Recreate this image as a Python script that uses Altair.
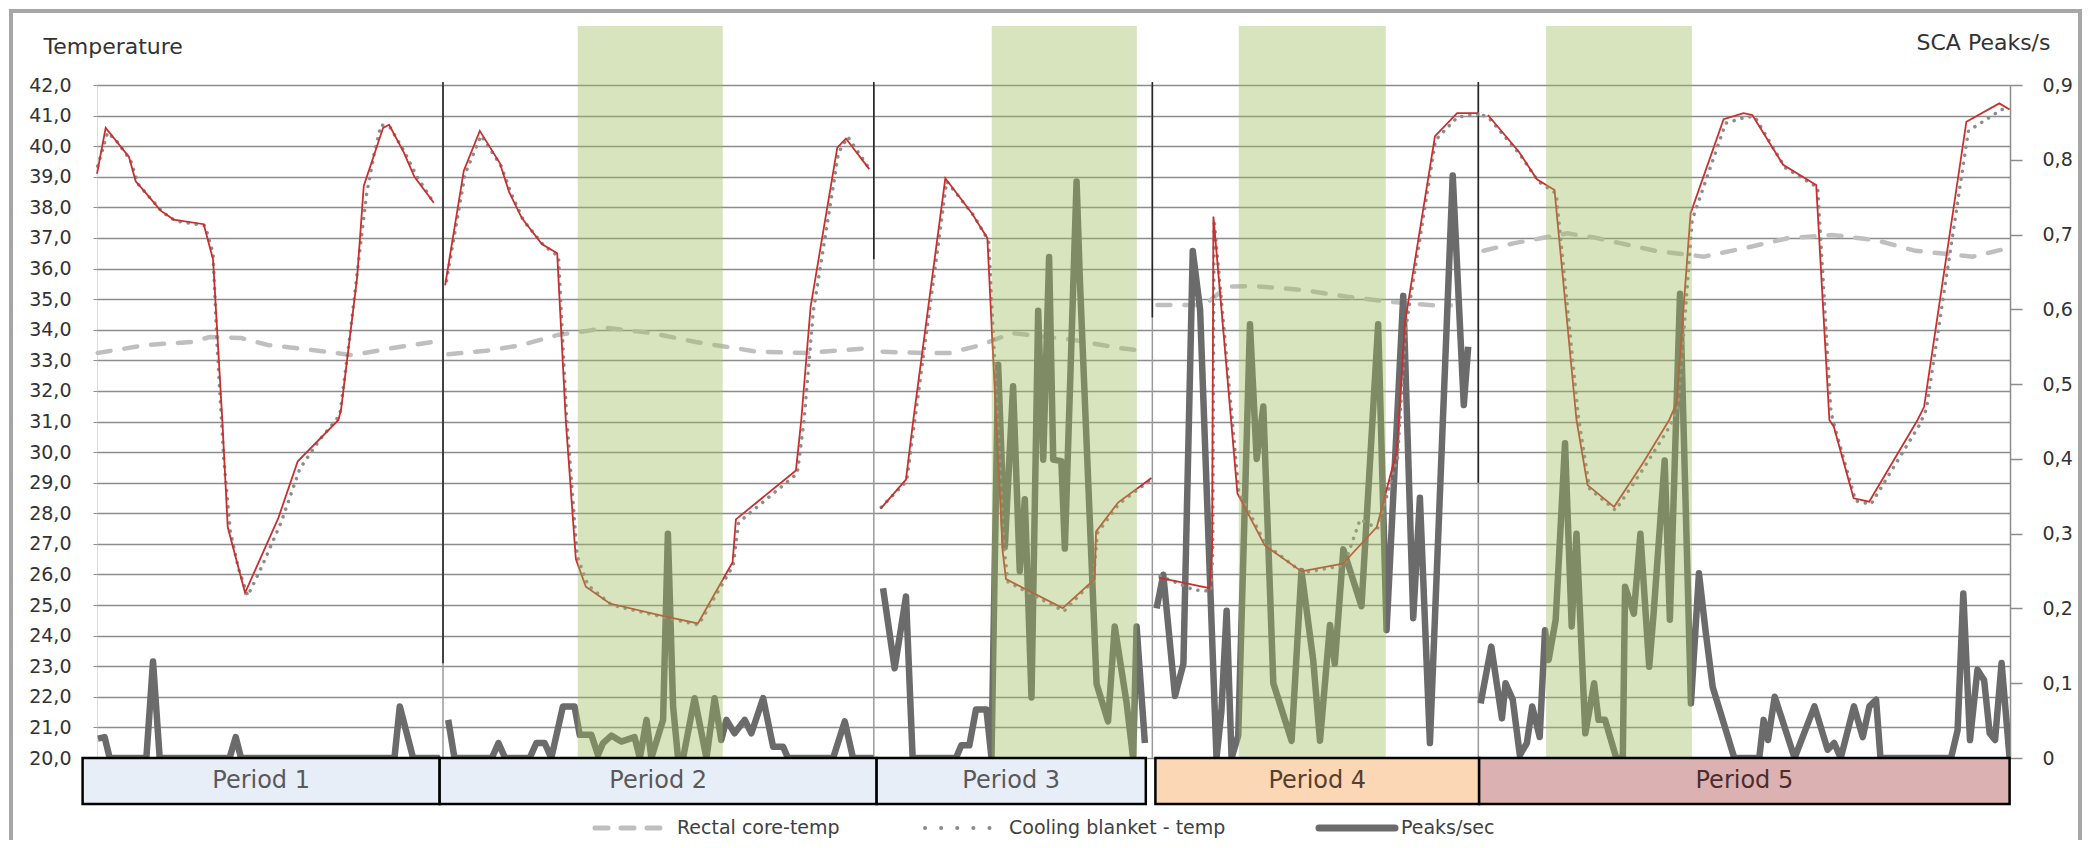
import altair as alt
import pandas as pd

# ---------------- data (x = time position 0..1434, left axis temperature, right axis peaks/s) ----------------
# red blanket-temperature trace, one list per period
red_p1_t = [0, 6.5, 24, 29, 37, 47.5, 57.5, 80, 87, 94, 98, 111, 136, 150.5, 181, 183, 195, 200, 214.5, 219, 230, 238, 252.5]
red_p1_v = [39.1, 40.6, 39.65, 38.85, 38.45, 37.9, 37.6, 37.45, 36.3, 31.0, 27.55, 25.4, 27.85, 29.7, 31.05, 31.4, 35.7, 38.7, 40.6, 40.7, 39.8, 39.0, 38.15]
red_p2_t = [261, 275, 287, 302, 309, 318.5, 333.5, 345, 351.5, 359, 366.5, 384.5, 424, 450.5, 476.5, 479, 524, 528, 535, 555, 561.5, 579]
red_p2_v = [35.45, 39.2, 40.5, 39.45, 38.5, 37.65, 36.8, 36.5, 31.0, 26.5, 25.6, 25.05, 24.65, 24.4, 26.4, 27.8, 29.4, 31.05, 34.75, 39.95, 40.25, 39.25]
red_p3_t = [587.5, 606.5, 612, 636, 656, 667.5, 679, 681.5, 724, 748, 749, 765.5, 790.5]
red_p3_v = [28.15, 29.1, 31.05, 38.95, 37.8, 37.0, 26.75, 25.85, 24.9, 25.85, 27.4, 28.35, 29.15]
red_p4_t = [796, 834, 836, 837, 855, 875.5, 903, 934, 959.5, 974.5, 980.5, 1003.1, 1019.7, 1035.6]
red_p4_v = [25.9, 25.55, 26.8, 37.7, 28.65, 26.95, 26.1, 26.35, 27.55, 30.05, 34.2, 40.33, 41.08, 41.08]
red_p5_t = [1042.8, 1066, 1079.5, 1092.7, 1109.2, 1117.5, 1137.4, 1158.8, 1178.7, 1184.2, 1194.7, 1219.5, 1234.4, 1241,
            1264.1, 1288.9, 1298.8, 1302.1, 1317, 1328.6, 1364.9, 1369.8, 1401.5, 1426.2, 1433.9]
red_p5_v = [41.02, 39.82, 38.92, 38.57, 31.05, 28.92, 28.21, 29.63, 31.05, 31.6, 37.8, 40.88, 41.08, 41.02,
            39.39, 38.73, 31.05, 30.83, 28.49, 28.38, 31.05, 31.48, 40.8, 41.4, 41.2]

# cooling blanket temperature (dotted)
dot_p1_t = [0.5, 8, 15, 25, 31, 39, 49, 59, 81, 87, 90, 95, 100, 106, 113, 124, 138, 152, 166, 182, 189, 196, 202, 208, 213, 220, 230, 240, 251]
dot_p1_v = [39.35, 40.45, 40.15, 39.55, 38.75, 38.35, 37.85, 37.55, 37.4, 36.5, 33.5, 29.8, 27.4, 26.2, 25.3, 26.3, 27.7, 29.45, 30.35, 31.2, 33.6, 36.2, 38.4, 39.8, 40.7, 40.6, 39.85, 39.0, 38.25]
dot_p2_t = [262, 276, 288, 303, 311, 320, 335, 346, 352, 360, 368, 386, 425, 451, 477, 481, 525, 530, 537, 556, 563, 580]
dot_p2_v = [35.6, 39.1, 40.35, 39.35, 38.4, 37.55, 36.75, 36.4, 31.2, 26.6, 25.65, 25.0, 24.6, 24.35, 26.3, 27.7, 29.3, 31.0, 34.6, 39.8, 40.3, 39.2]
dot_p3_t = [588, 607, 613, 637, 657, 668.5, 680, 683, 725, 747, 750, 766, 790]
dot_p3_v = [28.2, 29.05, 31.0, 38.85, 37.75, 36.9, 26.9, 25.75, 24.8, 25.8, 27.35, 28.3, 29.1]
dot_p4_t = [797, 822, 835, 836.5, 837.5, 856, 876, 904, 935, 947, 960, 975, 981, 1003.5, 1020, 1035.6]
dot_p4_v = [25.95, 25.5, 25.45, 26.7, 37.6, 28.7, 27.0, 26.05, 26.3, 27.8, 27.5, 29.8, 34.0, 40.2, 40.95, 41.05]
dot_p5_t = [1039.5, 1044, 1066.5, 1080.5, 1094, 1110.5, 1119, 1138.5, 1160, 1180, 1185.5, 1196, 1221, 1236, 1243,
            1265.5, 1290, 1300, 1303.5, 1318.5, 1330, 1366.5, 1371.5, 1403, 1428, 1434]
dot_p5_v = [41.0, 40.9, 39.75, 38.85, 38.45, 31.2, 28.8, 28.1, 29.5, 30.9, 31.5, 37.6, 40.75, 40.95, 40.95,
            39.3, 38.65, 31.3, 30.7, 28.4, 28.3, 30.9, 31.4, 40.5, 41.2, 41.15]

# rectal core temperature (dashed)
rect_p1_t = [0.5, 37, 71, 84.5, 108, 128, 161.3, 191.4, 221.6, 251.6]
rect_p1_v = [33.24, 33.5, 33.6, 33.76, 33.73, 33.5, 33.34, 33.17, 33.4, 33.6]
rect_p2_t = [263.4, 291.8, 318.5, 345.4, 368.7, 382, 415.8, 448.9, 495.3, 532, 562, 579]
rect_p2_v = [33.2, 33.31, 33.5, 33.83, 33.97, 34.06, 33.89, 33.6, 33.28, 33.24, 33.34, 33.4]
rect_p3_t = [589, 619, 639.4, 662.6, 686, 733, 766.5, 785]
rect_p3_v = [33.28, 33.24, 33.24, 33.5, 33.89, 33.66, 33.4, 33.31]
rect_p4_t = [795, 830, 847.5, 867, 903.8, 937.3, 967.4, 1001.6, 1015]
rect_p4_v = [34.81, 34.81, 35.41, 35.43, 35.3, 35.08, 34.92, 34.8, 34.8]
rect_p5_t = [1039.5, 1062.6, 1082.5, 1102.3, 1122.1, 1141.9, 1168.3, 1204.7, 1234.4, 1267.5, 1300.5, 1333.5, 1363.3, 1406.2, 1429.3]
rect_p5_v = [36.58, 36.83, 36.99, 37.15, 37.02, 36.83, 36.58, 36.39, 36.66, 36.99, 37.1, 36.93, 36.58, 36.39, 36.63]

# SCA peaks per second (right axis)
pk_p1_t = [0.7, 5.7, 9.5, 37, 42, 47, 99.4, 104, 108, 223, 227, 237, 257]
pk_p1_v = [0.026, 0.028, 0, 0, 0.129, 0, 0, 0.028, 0, 0, 0.069, 0, 0]
pk_p2_t = [263.3, 268, 296, 301, 306, 324.4, 329.4, 335.6, 340.6, 349.3, 358, 361.9, 370.6, 375.6, 379.4, 385.6, 393, 403,
           407, 412, 415.6, 424.4, 428, 431.9, 435.6, 439.4, 448, 456.9, 463, 468, 471.9, 478, 485.6, 490.6, 499.4, 506.9,
           514.4, 518, 551.9, 560.6, 566.8, 582]
pk_p2_v = [0.051, 0, 0, 0.02, 0, 0, 0.02, 0.02, 0, 0.069, 0.069, 0.031, 0.031, 0.004, 0.02, 0.03, 0.022, 0.028,
           0, 0.051, 0, 0.051, 0.30, 0.069, 0, 0, 0.08, 0, 0.08, 0.024, 0.051, 0.033, 0.051, 0.033, 0.08, 0.015,
           0.015, 0, 0, 0.049, 0, 0]
pk_p3_t = [589.3, 598, 606.5, 611.5, 644, 648, 654, 659, 666.8, 670.6, 675.6, 680.6, 686.8, 691.8, 695.6, 700.6, 705.6,
           709.4, 713.8, 716.9, 723, 725.6, 734.4, 736.9, 749.4, 758, 763, 771.8, 776.8, 779.4, 785.6]
pk_p3_v = [0.227, 0.12, 0.216, 0, 0, 0.017, 0.017, 0.065, 0.065, 0, 0.526, 0.282, 0.497, 0.25, 0.346, 0.081, 0.598,
           0.399, 0.67, 0.399, 0.397, 0.28, 0.771, 0.638, 0.099, 0.049, 0.176, 0.075, 0, 0.176, 0.02]
pk_p4_t = [794.4, 799.4, 808.2, 814.5, 821.5, 827, 839.3, 843, 846.9, 850.6, 855.6, 864.4, 869.4, 874.4, 881.9, 895.6,
           903, 911.8, 916.9, 924.4, 928, 934.4, 948, 960.5, 966.8, 979.3, 986.8, 991.8, 999.3, 1016.4, 1024.7, 1028]
pk_p4_v = [0.2, 0.245, 0.083, 0.126, 0.678, 0.60, 0, 0.063, 0.197, 0, 0.03, 0.58, 0.40, 0.47, 0.10, 0.023,
           0.25, 0.131, 0.023, 0.178, 0.126, 0.279, 0.203, 0.58, 0.171, 0.618, 0.187, 0.348, 0.02, 0.779, 0.472, 0.55]
pk_p5_t = [1037.3, 1045.3, 1053.3, 1056, 1061.4, 1066.7, 1072, 1076, 1081.6, 1085.6, 1088.3, 1093.6, 1100.6, 1105.6,
           1109.2, 1115.8, 1122.4, 1125.7, 1130.6, 1139, 1143.9, 1145.6, 1152.2, 1157.1, 1163.7, 1167, 1175.3, 1179.2,
           1186.8, 1195, 1201, 1205.9, 1211.3, 1227.5, 1246.2, 1249.5, 1252.8, 1257.8, 1272.7, 1287.6, 1297.5, 1302.4,
           1307.3, 1317.2, 1323.8, 1328.8, 1333.8, 1337.1, 1390, 1394.9, 1399.2, 1404.2, 1409.8, 1414.8, 1419, 1423,
           1427.9, 1433.9]
pk_p5_v = [0.073, 0.149, 0.053, 0.1, 0.078, 0.004, 0.02, 0.069, 0.028, 0.171, 0.131, 0.185, 0.421, 0.176,
           0.30, 0.033, 0.1, 0.051, 0.051, 0, 0, 0.229, 0.193, 0.30, 0.122, 0.193, 0.398, 0.185,
           0.621, 0.073, 0.247, 0.171, 0.095, 0, 0, 0.051, 0.024, 0.082, 0, 0.069, 0.011, 0.02,
           0, 0.069, 0.028, 0.069, 0.078, 0, 0, 0.037, 0.22, 0.024, 0.118, 0.104, 0.033, 0.024,
           0.127, 0]

# green shaded intervals
band_start = [360.4, 670.8, 856.0, 1086.4]
band_end = [469.1, 779.6, 966.2, 1195.7]

# periods
period_label = ["Period 1", "Period 2", "Period 3", "Period 4", "Period 5"]
period_start = [-10.8, 256.9, 584.5, 793.5, 1036.2]
period_end = [256.9, 584.5, 786.3, 1036.2, 1433.9]
period_fill = ["#e8eef8", "#e8eef8", "#e8eef8", "#fcd7b6", "#dcb1b1"]
period_text = ["#595959", "#595959", "#595959", "#55402f", "#4d2c2c"]

# period separators (time, lowest temperature of the dark part)
sep_t = [259.4, 582.4, 791.2, 1035.6]
sep_dark_low = [23.1, 36.3, 34.4, 29.0]

temp_ticks = list(range(20, 43))
peak_ticks = [0, 0.1, 0.2, 0.3, 0.4, 0.5, 0.6, 0.7, 0.8, 0.9]


def frame(segs):
    rows = []
    for i, (ts, vs) in enumerate(segs):
        rows += [{"t": a, "v": b, "seg": i} for a, b in zip(ts, vs)]
    return pd.DataFrame(rows)


red_df = frame([(red_p1_t, red_p1_v), (red_p2_t, red_p2_v), (red_p3_t, red_p3_v), (red_p4_t, red_p4_v), (red_p5_t, red_p5_v)])
dot_df = frame([(dot_p1_t, dot_p1_v), (dot_p2_t, dot_p2_v), (dot_p3_t, dot_p3_v), (dot_p4_t, dot_p4_v), (dot_p5_t, dot_p5_v)])
rect_df = frame([(rect_p1_t, rect_p1_v), (rect_p2_t, rect_p2_v), (rect_p3_t, rect_p3_v), (rect_p4_t, rect_p4_v), (rect_p5_t, rect_p5_v)])
pk_df = frame([(pk_p1_t, pk_p1_v), (pk_p2_t, pk_p2_v), (pk_p3_t, pk_p3_v), (pk_p4_t, pk_p4_v), (pk_p5_t, pk_p5_v)])
band_df = pd.DataFrame({"start": band_start, "end": band_end})
period_df = pd.DataFrame({"start": period_start, "end": period_end, "label": period_label,
                          "fill": period_fill, "tcolor": period_text})
sep_df = pd.DataFrame({"t": sep_t, "lo": sep_dark_low})
one = pd.DataFrame({"k": [0]})

# ---------------- chart ----------------
W, H = 1913, 673
FONT = "DejaVu Sans"
xs = alt.Scale(domain=[0, 1434.2], nice=False, zero=False)


def ys():
    return alt.Scale(domain=[20, 42], nice=False, zero=False)


rs = alt.Scale(domain=[0, 0.9], nice=False, zero=False)


def X(f="t"):
    return alt.X(f + ":Q", scale=xs, axis=None)


left_axis = alt.Axis(
    orient="left", values=temp_ticks,
    labelExpr="replace(format(datum.value, '.1f'), '.', ',')",
    grid=True, gridColor="#8c8c8c", gridWidth=1.4,
    domain=False, ticks=True, tickSize=4, tickColor="#8c8c8c",
    labelFont=FONT, labelFontSize=19, labelColor="#333333", labelPadding=22,
    title="Temperature", titleAngle=0, titleAlign="left", titleBaseline="middle",
    titleX=-54, titleY=-39, titleFont=FONT, titleFontSize=22, titleFontWeight="normal",
    titleColor="#333333",
)
right_axis = alt.Axis(
    orient="right", values=peak_ticks,
    labelExpr="datum.value == 0 ? '0' : replace(format(datum.value, '.1f'), '.', ',')",
    grid=False, domain=True, domainColor="#8c8c8c", domainWidth=1.5,
    ticks=True, tickSize=12, tickColor="#8c8c8c", tickWidth=1.5,
    labelFont=FONT, labelFontSize=19, labelColor="#333333", labelPadding=20,
    title="SCA Peaks/s", titleAngle=0, titleAlign="right", titleBaseline="middle",
    titleX=40, titleY=-43, titleFont=FONT, titleFontSize=22, titleFontWeight="normal",
    titleColor="#333333",
)

sep_light = alt.Chart(sep_df).mark_rule(color="#9a9a9a", strokeWidth=1.5).encode(
    x=X(), y=alt.value(0), y2=alt.value(H))
sep_dark = alt.Chart(sep_df).mark_rule(color="#262626", strokeWidth=1.6).encode(
    x=X(), y=alt.Y("lo:Q", scale=ys(), axis=None), y2=alt.value(-3))

peaks = alt.Chart(pk_df).mark_line(color="#6b6b6b", strokeWidth=6.5, strokeJoin="round", clip=True).encode(
    x=X(), y=alt.Y("v:Q", scale=rs, axis=right_axis), detail="seg:N")

rectal = alt.Chart(rect_df).mark_line(color="#bfbfbf", strokeWidth=4.5, strokeDash=[13, 14], strokeCap="round").encode(
    x=X(), y=alt.Y("v:Q", scale=ys(), axis=left_axis), detail="seg:N")
dotted = alt.Chart(dot_df).mark_line(color="#8c8c8c", strokeWidth=3.5, strokeDash=[0.1, 8], strokeCap="round").encode(
    x=X(), y=alt.Y("v:Q", scale=ys(), axis=None), detail="seg:N")
red = alt.Chart(red_df).mark_line(color="#c8302e", strokeWidth=1.8).encode(
    x=X(), y=alt.Y("v:Q", scale=ys(), axis=None), detail="seg:N")

bands = alt.Chart(band_df).mark_rect(color="#9bbb59", opacity=0.4).encode(
    x=X("start"), x2="end:Q", y=alt.value(-59), y2=alt.value(H))

boxes = alt.Chart(period_df).mark_rect(stroke="black", strokeWidth=2.5).encode(
    x=X("start"), x2="end:Q", y=alt.value(H), y2=alt.value(H + 46),
    fill=alt.Fill("fill:N", scale=None))
box_text = alt.Chart(period_df).transform_calculate(mid="(datum.start + datum.end) / 2").mark_text(
    font=FONT, fontSize=24, baseline="middle", align="center").encode(
    x=X("mid"), y=alt.value(H + 23), text="label:N", color=alt.Color("tcolor:N", scale=None))

LY = 743
leg1 = alt.Chart(one).mark_rule(color="#bfbfbf", strokeWidth=5, strokeDash=[13, 13], strokeCap="round").encode(
    x=alt.value(498), x2=alt.value(575), y=alt.value(LY))
leg2 = alt.Chart(one).mark_rule(color="#8c8c8c", strokeWidth=4, strokeDash=[0.1, 16], strokeCap="round").encode(
    x=alt.value(828), x2=alt.value(895), y=alt.value(LY))
leg3 = alt.Chart(one).mark_rule(color="#6b6b6b", strokeWidth=7, strokeCap="round").encode(
    x=alt.value(1222), x2=alt.value(1298), y=alt.value(LY))
t1 = alt.Chart(one).mark_text(text="Rectal core-temp", font=FONT, fontSize=19, align="left", baseline="middle",
                              color="#404040").encode(x=alt.value(580), y=alt.value(LY))
t2 = alt.Chart(one).mark_text(text="Cooling blanket - temp", font=FONT, fontSize=19, align="left", baseline="middle",
                              color="#404040").encode(x=alt.value(912), y=alt.value(LY))
t3 = alt.Chart(one).mark_text(text="Peaks/sec", font=FONT, fontSize=19, align="left", baseline="middle",
                              color="#404040").encode(x=alt.value(1304), y=alt.value(LY))

outer = alt.Chart(one).mark_rect(fillOpacity=0, stroke="#a6a6a6", strokeWidth=4).encode(
    x=alt.value(-86), x2=alt.value(1983), y=alt.value(-74), y2=alt.value(830))

chart = alt.layer(
    rectal, sep_light, sep_dark, peaks, dotted, red, bands, boxes, box_text,
    leg1, leg2, leg3, t1, t2, t3, outer
).resolve_scale(y="independent").properties(
    width=W, height=H,
    autosize=alt.AutoSizeParams(type="none"),
    padding={"left": 89, "top": 77, "right": 73, "bottom": 82},
).configure_view(stroke=None).configure(background="white")

chart.save("out.html", embed_options={"renderer": "svg", "actions": False})
